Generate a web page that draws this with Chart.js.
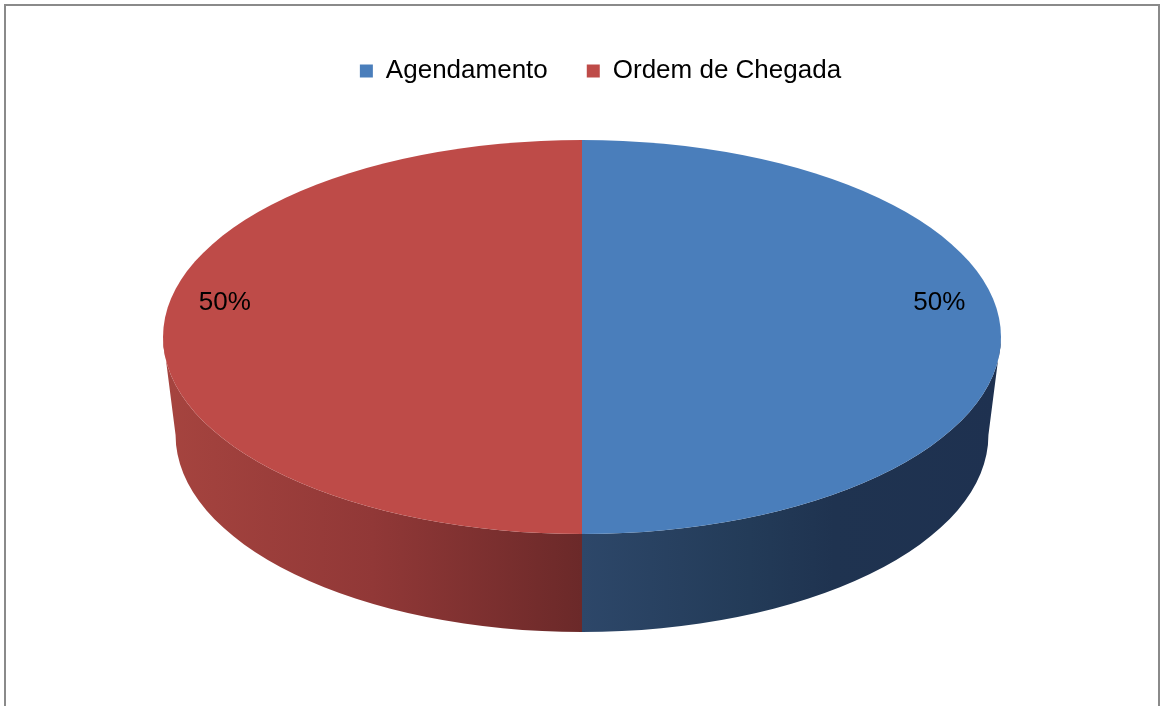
<!DOCTYPE html>
<html>
<head>
<meta charset="utf-8">
<script src="https://cdn.jsdelivr.net/npm/chart.js@4.4.0/dist/chart.umd.min.js"></script>
<style>
    body { margin: 0; background: #fff; }
    #wrap { position: relative; width: 1161px; height: 706px; overflow: hidden; }
    #frame {
        position: absolute; left: 4px; top: 4px; width: 1152px; height: 720px;
        border: 2px solid #8a8a8a; border-bottom: none; pointer-events: none;
    }
</style>
</head>
<body>
<div id="wrap">
    <canvas id="atendimentoChart" width="1161" height="706"></canvas>
    <div id="frame"></div>
</div>
<script>
const labels = ["Agendamento", "Ordem de Chegada"];
const shares = [50, 50];
const topColors = ["#4A7EBB", "#BE4B48"];

// rim shading, left-to-right across the whole pie
const rimStops = [
    [[0.5, "#2D4769"], [0.7, "#233B58"], [0.8, "#1F3350"], [1, "#1E3150"]],
    [[0, "#A6443F"], [0.25, "#913837"], [0.5, "#6B2929"]]
];

// on-screen ellipse of the tilted pie
const PIE_X = 582, PIE_Y = 337, RX = 419, RY = 197, DEPTH = 98, BOTTOM_SHRINK = 0.97;

// pieces of [s, e] that face the viewer (canvas angles 0..PI, also 2PI..3PI)
function frontParts(s, e) {
    const out = [];
    [0, 2 * Math.PI, -2 * Math.PI].forEach(off => {
        const a = Math.max(s, off), b = Math.min(e, off + Math.PI);
        if (b > a) out.push([a, b]);
    });
    return out;
}

const tilt = {
    id: "tilt",
    beforeDatasetsDraw(chart) {
        const ctx = chart.ctx;
        const arcs = chart.getDatasetMeta(0).data;
        const { x, y, outerRadius: r } = arcs[0];
        const sx = RX / r, sy = RY / r;
        ctx.save();
        ctx.translate(PIE_X, PIE_Y);
        ctx.scale(sx, sy);
        ctx.translate(-x, -y);
        const d = DEPTH / sy;
        arcs.forEach((arc, i) => {
            const grad = ctx.createLinearGradient(x - r, 0, x + r, 0);
            rimStops[i].forEach(([p, c]) => grad.addColorStop(p, c));
            frontParts(arc.startAngle, arc.endAngle).forEach(([a0, a1]) => {
                ctx.beginPath();
                ctx.arc(x, y, r, a0, a1);
                ctx.ellipse(x, y + d, r * BOTTOM_SHRINK, r, 0, a1, a0, true);
                ctx.closePath();
                ctx.fillStyle = grad;
                ctx.fill();
            });
        });
    },
    afterDatasetsDraw(chart) {
        const ctx = chart.ctx;
        ctx.restore();
        const arcs = chart.getDatasetMeta(0).data;
        const total = shares.reduce((a, b) => a + b, 0);
        ctx.save();
        ctx.font = "26px 'Liberation Sans', Arial, sans-serif";
        ctx.fillStyle = "#000";
        ctx.textAlign = "center";
        ctx.textBaseline = "middle";
        arcs.forEach((arc, i) => {
            const mid = (arc.startAngle + arc.endAngle) / 2;
            // nudge the label up toward the back of the pie
            const a = Math.cos(mid) >= 0 ? mid - 0.2 : mid + 0.2;
            const lx = PIE_X + Math.cos(a) * RX * 0.87;
            const ly = PIE_Y + Math.sin(a) * RY * 0.87;
            ctx.fillText(Math.round(shares[i] / total * 100) + "%", lx, ly);
        });
        ctx.restore();
    }
};

new Chart(document.getElementById("atendimentoChart"), {
    type: "pie",
    data: {
        labels: labels,
        datasets: [{
            data: shares,
            backgroundColor: topColors,
            borderWidth: 0
        }]
    },
    options: {
        responsive: false,
        animation: false,
        layout: { padding: { top: 19, left: 40, right: 0, bottom: 10 } },
        plugins: {
            legend: {
                position: "top",
                labels: {
                    boxWidth: 13, boxHeight: 13, padding: 39, color: "#000",
                    font: { size: 26, family: "'Liberation Sans', Arial, sans-serif" }
                }
            },
            tooltip: { enabled: false }
        }
    },
    plugins: [tilt]
});
</script>
</body>
</html>
